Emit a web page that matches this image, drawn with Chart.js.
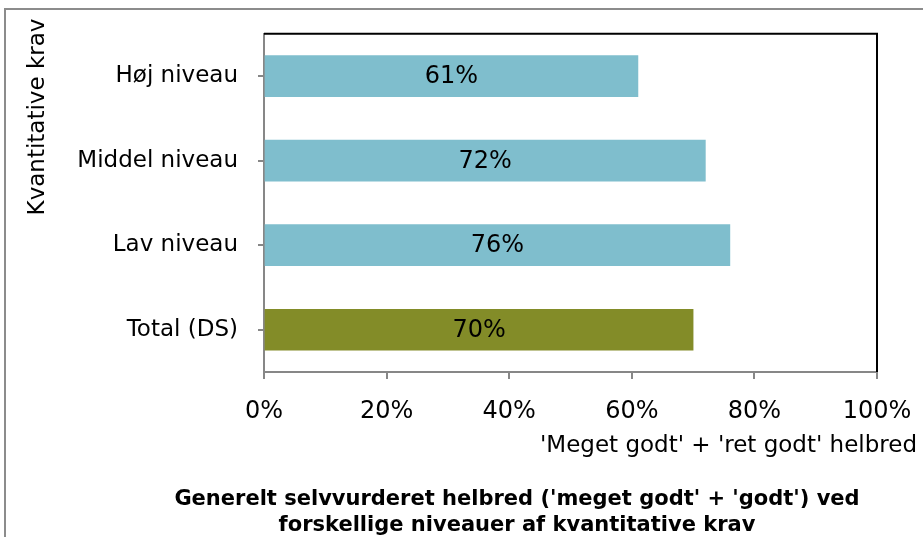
<!DOCTYPE html>
<html>
<head>
<meta charset="utf-8">
<script src="https://cdn.jsdelivr.net/npm/chart.js@4"></script>
<style>
  html, body { margin: 0; padding: 0; background: #fff; }
  #wrap { width: 923px; height: 537px; position: relative; }
</style>
</head>
<body>
<div id="wrap"><canvas id="c" width="923" height="537"></canvas></div>
<script>
const categories = ['Høj niveau', 'Middel niveau', 'Lav niveau', 'Total (DS)'];
const values = [61, 72, 76, 70];
const barColors = ['#7fbecd', '#7fbecd', '#7fbecd', '#838c28'];
const xTicks = [0, 20, 40, 60, 80, 100];
const xAxisTitle = "'Meget godt' + 'ret godt' helbred";
const yAxisTitle = 'Kvantitative krav';
const titleLines = ["Generelt selvvurderet helbred ('meget godt' + 'godt') ved", 'forskellige niveauer af kvantitative krav'];

const FONT = "'DejaVu Sans', Verdana, sans-serif";

const decor = {
  id: 'decor',
  afterDraw(chart) {
    const ctx = chart.ctx;
    const a = chart.chartArea;
    ctx.save();
    // outer frame
    ctx.strokeStyle = '#8c8c8c';
    ctx.lineWidth = 2;
    ctx.strokeRect(5, 9, 940, 560);
    // plot top/right border
    ctx.strokeStyle = '#000';
    ctx.lineWidth = 2;
    ctx.beginPath();
    ctx.moveTo(a.left, a.top);
    ctx.lineTo(a.right, a.top);
    ctx.lineTo(a.right, a.bottom);
    ctx.stroke();
    // data labels
    const meta = chart.getDatasetMeta(0);
    ctx.fillStyle = '#000';
    ctx.font = '24px ' + FONT;
    ctx.textAlign = 'center';
    ctx.textBaseline = 'middle';
    meta.data.forEach((bar, i) => {
      const cx = (bar.x + bar.base) / 2;
      ctx.fillText(values[i] + '%', cx, bar.y + 1);
    });
    // x axis title
    ctx.font = '23px ' + FONT;
    ctx.textAlign = 'right';
    ctx.fillText(xAxisTitle, 917, 446);
    // y axis title
    ctx.save();
    ctx.translate(38, 117);
    ctx.rotate(-Math.PI / 2);
    ctx.textAlign = 'center';
    ctx.fillText(yAxisTitle, 0, 0);
    ctx.restore();
    // chart title
    ctx.font = 'bold 21px ' + FONT;
    ctx.textAlign = 'center';
    ctx.fillText(titleLines[0], 517, 500);
    ctx.fillText(titleLines[1], 517, 526);
    ctx.restore();
  }
};

new Chart(document.getElementById('c'), {
  type: 'bar',
  data: {
    labels: categories,
    datasets: [{
      data: values,
      backgroundColor: barColors,
      borderWidth: 0,
      barThickness: 41
    }]
  },
  options: {
    indexAxis: 'y',
    responsive: false,
    animation: false,
    devicePixelRatio: 1,
    layout: { padding: { top: 32, right: 46, bottom: 0, left: 0 } },
    plugins: { legend: { display: false }, tooltip: { enabled: false }, title: { display: false } },
    scales: {
      x: {
        min: 0, max: 100,
        afterBuildTicks(scale) { scale.ticks = xTicks.map(v => ({ value: v })); },
        afterFit(scale) { scale.height = 165; scale.paddingRight = 0; scale.paddingLeft = 0; },
        border: { display: true, color: '#878787', width: 2 },
        grid: { drawOnChartArea: false, drawTicks: true, tickLength: 7, color: '#878787', lineWidth: 2 },
        ticks: {
          callback: v => v + '%',
          color: '#000',
          font: { family: FONT, size: 24 },
          padding: 18,
          maxRotation: 0
        }
      },
      y: {
        afterFit(scale) { scale.width = 264; },
        border: { display: true, color: '#878787', width: 2 },
        grid: { offset: false, drawOnChartArea: false, drawTicks: true, tickLength: 6, color: '#878787', lineWidth: 2 },
        ticks: {
          color: '#000',
          font: { family: FONT, size: 23 },
          padding: 20
        }
      }
    }
  },
  plugins: [decor]
});
</script>
</body>
</html>
